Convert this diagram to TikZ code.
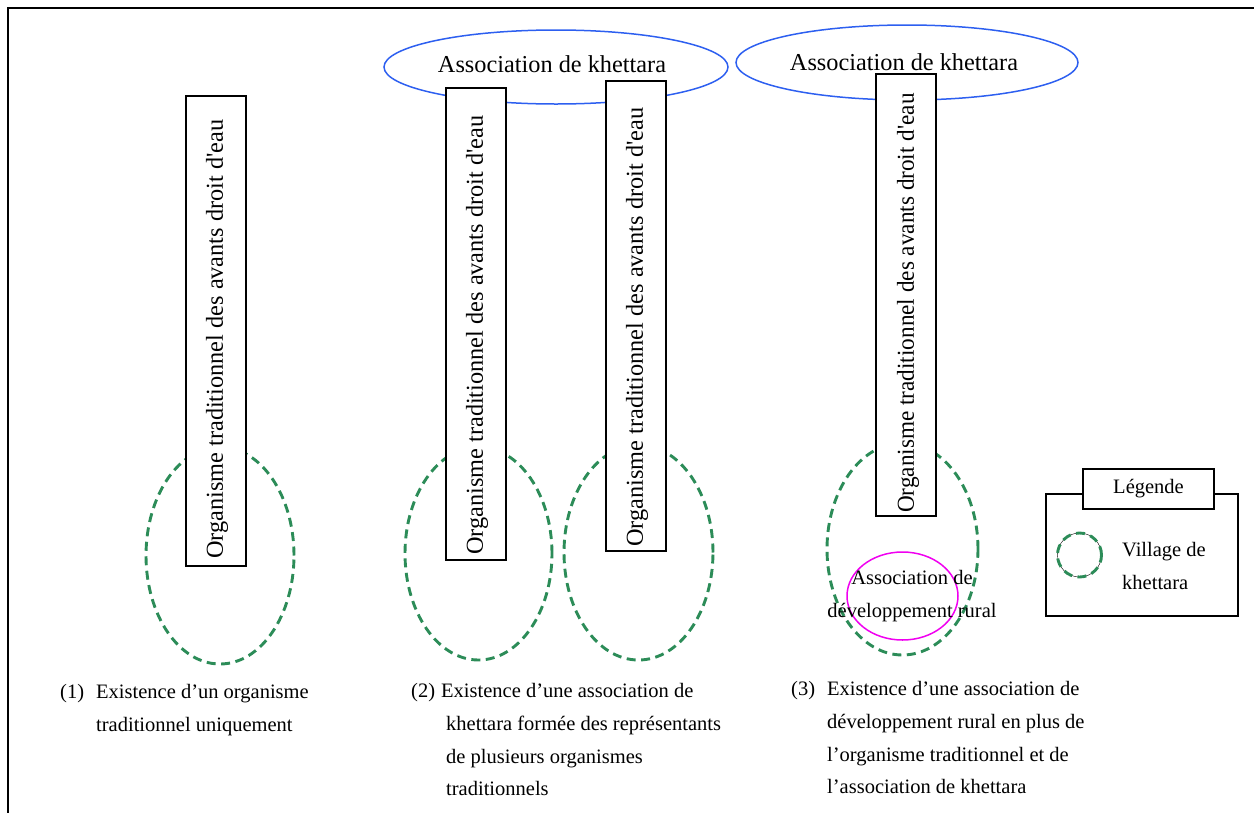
\documentclass[tikz,border=0pt]{standalone}
\usepackage{fontspec}
\setmainfont{Liberation Serif}[Ligatures=TeXOff]
\usetikzlibrary{shapes.geometric}

\definecolor{villagegreen}{RGB}{44,140,88}
\definecolor{assocblue}{RGB}{45,95,240}
\definecolor{ruralmagenta}{RGB}{240,0,240}

\newcommand{\holdername}{Organisme traditionnel des avants droit d'eau}

\begin{document}
\begin{tikzpicture}[x=1pt,y=-1pt,
  bigfont/.style={font=\fontsize{24.3}{29}\selectfont},
  smallfont/.style={font=\fontsize{20.5}{32.8}\selectfont},
  village/.style={ellipse, draw=villagegreen, line width=2.9pt,
    dash pattern=on 9pt off 5.5pt, inner sep=0pt},
  khettara/.style={ellipse, draw=assocblue, line width=1.5pt,
    minimum width=344pt, minimum height=74pt, inner sep=0pt},
  holder/.style={draw, fill=white, line width=1.7pt, inner sep=0pt,
    minimum width=60pt},
  holdertext/.style={bigfont, rotate=90, anchor=west, inner sep=0pt},
  rural/.style={ellipse, draw=ruralmagenta, line width=1.5pt, inner sep=0pt,
    minimum width=111pt, minimum height=88pt},
  itemnum/.style={smallfont, anchor=north west, inner sep=0pt},
  itembody/.style={smallfont, anchor=north west, inner sep=0pt, align=left},
]
\useasboundingbox (0,0) rectangle (1254,812);
\clip (0,0) rectangle (1254,812);

% outer frame
\draw[line width=1.6pt] (8,830) -- (8,8) -- (1270,8);

% villages
\node[village, minimum width=148pt, minimum height=217pt] (v1) at (220,555.5) {};
\node[village, minimum width=147pt, minimum height=213pt] (v2a) at (478.5,553.5) {};
\node[village, minimum width=149pt, minimum height=215pt] (v2b) at (638.5,552.5) {};
\node[village, minimum width=151pt, minimum height=212pt] (v3) at (902.5,549) {};

% khettara associations
\node[khettara] (k2) at (556,67) {};
\node[khettara, minimum width=342pt, minimum height=75pt] (k3) at (907,62.5) {};
\node[bigfont, inner sep=0pt] (k2t) at (552,64) {Association de khettara};
\node[bigfont, inner sep=0pt] (k3t) at (904,62) {Association de khettara};

% traditional water-right holders
\node[holder, minimum height=470pt] (h1) at (216,331) {};
\node[holder, minimum height=472pt] (h2a) at (476,324) {};
\node[holder, minimum height=470pt] (h2b) at (636,316) {};
\node[holder, minimum height=442pt] (h3) at (906,295) {};
\node[holdertext] (h1t) at (217,559) {\holdername};
\node[holdertext] (h2at) at (477,555) {\holdername};
\node[holdertext] (h2bt) at (637,547) {\holdername};
\node[holdertext] (h3t) at (908,513) {\scalebox{0.955}[1]{\holdername}};

% rural development association
\node[rural] (r3) at (902.5,596) {};
\node[smallfont, align=center, inner sep=0pt] (r3t) at (912,596)
  {Association de\\développement rural};

% legend
\node[draw, line width=1.2pt, minimum width=192pt, minimum height=122pt, inner sep=0pt] (lg) at (1142,555) {};
\node[draw, fill=white, line width=1.2pt, minimum width=131pt, minimum height=40pt, inner sep=0pt,
  smallfont] (lgt) at (1148.5,489) {Légende};
\node[circle, draw, line width=0.4pt, minimum size=44pt, inner sep=0pt] (lgc) at (1079.5,555) {};
\node[village, circle, minimum size=44pt] (lgv) at (1079.5,555) {};
\node[smallfont, align=left, anchor=west, inner sep=0pt] (lgvt) at (1122,566) {Village de\\khettara};

% captions
\node[itemnum] (n1) at (60,684) {(1)};
\node[itembody] (c1) at (96,684) {Existence d’un organisme\\traditionnel uniquement};
\node[itemnum] (n2) at (411,683) {(2)};
\node[itembody] (c2) at (441,683) {Existence d’une association de\\\hspace*{5pt}khettara formée des représentants\\\hspace*{5pt}de plusieurs organismes\\\hspace*{5pt}traditionnels};
\node[itemnum] (n3) at (791,681) {(3)};
\node[itembody] (c3) at (827,681) {Existence d’une association de\\développement rural en plus de\\l’organisme traditionnel et de\\l’association de khettara};
\end{tikzpicture}
\end{document}
